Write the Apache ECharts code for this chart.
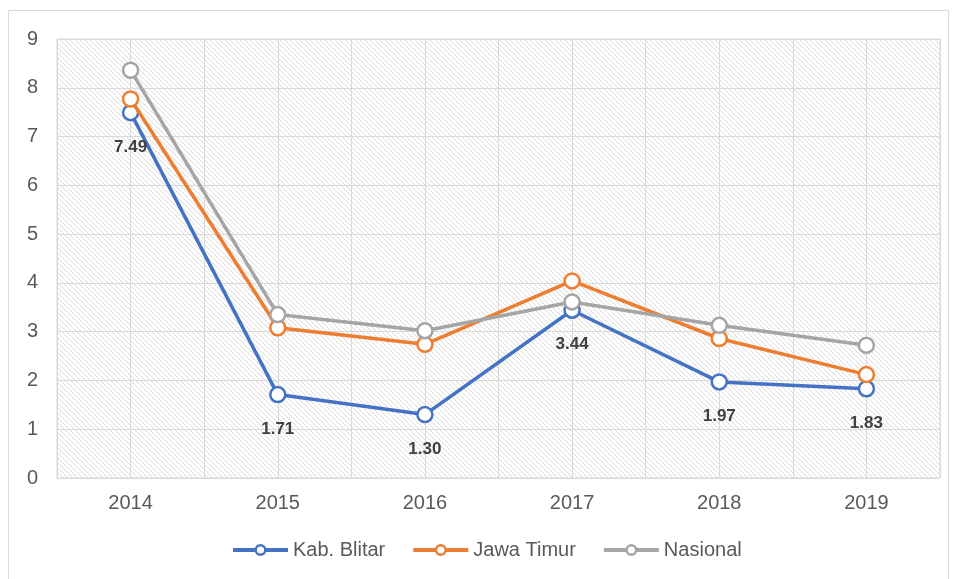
<!DOCTYPE html>
<html>
<head>
<meta charset="utf-8">
<script src="https://cdn.jsdelivr.net/npm/echarts@6/dist/echarts.min.js"></script>
<style>
  html, body { margin: 0; padding: 0; background: #fff; }
  #main { width: 954px; height: 579px; }
</style>
</head>
<body>
<div id="main"></div>
<script>
const years = ["2014", "2015", "2016", "2017", "2018", "2019"];
const blitar = [7.49, 1.71, 1.30, 3.44, 1.97, 1.83];
const jatim = [7.77, 3.08, 2.74, 4.04, 2.86, 2.12];
const nasional = [8.36, 3.35, 3.02, 3.61, 3.13, 2.72];

const blue = "#4472C4";
const orange = "#ED7D31";
const gray = "#A5A5A5";

// diagonal hatch for plot background (1px "\" lines)
const hatch = document.createElement("canvas");
hatch.width = 5;
hatch.height = 5;
const ctx = hatch.getContext("2d");
ctx.fillStyle = "#ffffff";
ctx.fillRect(0, 0, 5, 5);
ctx.fillStyle = "#d9d9d9";
for (let i = 0; i < 5; i++) ctx.fillRect(i, i, 1, 1);

const chart = echarts.init(document.getElementById("main"));

function lineSeries(name, data, color, z) {
  return {
    name: name,
    type: "line",
    data: data,
    z: z,
    symbol: "circle",
    symbolSize: 15,
    lineStyle: { width: 3.5, color: color },
    itemStyle: { color: "#fff", borderColor: color, borderWidth: 2.5 },
    emphasis: { disabled: true },
  };
}

const blitarSeries = lineSeries("Kab. Blitar", blitar, blue, 3);
blitarSeries.label = {
  show: true,
  position: "bottom",
  distance: 17,
  formatter: (p) => p.value.toFixed(2),
  color: "#404040",
  fontWeight: "bold",
  fontSize: 17,
  fontFamily: "Liberation Sans",
};

const option = {
  animation: false,
  graphic: [
    {
      type: "rect",
      shape: { x: 8.5, y: 10.5, width: 940, height: 580 },
      style: { fill: "none", stroke: "#d9d9d9", lineWidth: 1 },
      z: -10,
    },
  ],
  grid: {
    left: 57,
    right: 14,
    top: 39,
    bottom: 101,
    show: true,
    backgroundColor: { image: hatch, repeat: "repeat" },
    borderColor: "#d9d9d9",
    borderWidth: 1,
  },
  legend: {
    bottom: 14,
    left: 226,
    itemWidth: 55,
    itemHeight: 12,
    itemGap: 26,
    lineStyle: { width: 4 },
    itemStyle: { borderWidth: 2.5 },
    textStyle: { fontSize: 20, color: "#595959", fontFamily: "Liberation Sans" },
    data: ["Kab. Blitar", "Jawa Timur", "Nasional"],
  },
  xAxis: [
    {
      type: "category",
      data: years,
      boundaryGap: true,
      axisLine: { lineStyle: { color: "#d9d9d9" } },
      axisTick: { show: false },
      splitLine: { show: false },
      axisLabel: {
        fontSize: 20,
        color: "#595959",
        margin: 15,
        fontFamily: "Liberation Sans",
      },
    },
    {
      type: "value",
      min: 0,
      max: 12,
      interval: 1,
      show: true,
      position: "bottom",
      axisLine: { show: false },
      axisTick: { show: false },
      axisLabel: { show: false },
      splitLine: { show: true, lineStyle: { color: "#d9d9d9", width: 1 } },
    },
  ],
  yAxis: {
    type: "value",
    min: 0,
    max: 9,
    interval: 1,
    axisLine: { show: false },
    axisTick: { show: false },
    axisLabel: {
      fontSize: 20,
      color: "#595959",
      margin: 19,
      fontFamily: "Liberation Sans",
    },
    splitLine: { lineStyle: { color: "#d9d9d9", width: 1 } },
  },
  series: [
    blitarSeries,
    lineSeries("Jawa Timur", jatim, orange, 4),
    lineSeries("Nasional", nasional, gray, 5),
  ],
};

chart.setOption(option);
</script>
</body>
</html>
